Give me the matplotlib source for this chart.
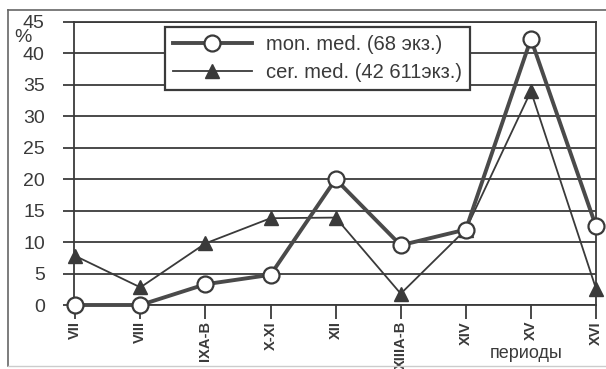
import numpy as np
import matplotlib
matplotlib.use("Agg")
import matplotlib.pyplot as plt
from matplotlib.lines import Line2D

plt.rcParams['font.family'] = ['Liberation Sans', 'DejaVu Sans']

# periods and shares (%) of the two groups
periods = ["VII", "VIII", "IXA-B", "X-XI", "XII", "XIIIA-B", "XIV", "XV", "XVI"]
mon_med = [0, 0, 3.3, 4.8, 20, 9.5, 12, 42.3, 12.5]
cer_med = [7.8, 2.8, 9.8, 13.8, 13.9, 1.8, 12, 34, 2.6]
yticks = [0, 5, 10, 15, 20, 25, 30, 35, 40, 45]

ink = "#3a3a3a"
W, H = 606, 369

fig = plt.figure(figsize=(W / 100, H / 100), dpi=100)
ax = fig.add_axes([74 / W, 1 - 305 / H, (596 - 74) / W, (305 - 22) / H])

x = np.arange(len(periods))

# horizontal grid drawn as lines reaching past the left spine
for v in yticks:
    ax.axhline(v, color=ink, lw=1.3, zorder=1)

ax.plot(x, cer_med, color=ink, lw=1.3, marker="^", ms=10,
        mfc=ink, mec=ink, zorder=3, clip_on=False)
ax.plot(x, mon_med, color="#4a4a4a", lw=2.8, marker="o", ms=11.5,
        mfc="white", mec=ink, mew=1.6, zorder=4, clip_on=False)

ax.set_xlim(-0.02, 8)
ax.set_ylim(0, 45)
ax.set_xticks(x)
ax.set_xticklabels(periods, rotation=90, fontsize=10.5, color=ink,
                   fontweight="semibold")
ax.set_yticks(yticks)
ax.set_yticklabels([str(v) for v in yticks], fontsize=14, color=ink)
ax.tick_params(axis="y", length=8, width=1.3, color=ink, pad=13)
ax.tick_params(axis="x", length=10, width=1.3, color=ink, pad=1.5)
for s in ax.spines.values():
    s.set_color(ink)
    s.set_linewidth(1.3)

# legend
h1 = Line2D([], [], color="#4a4a4a", lw=2.8, marker="o", ms=11.5,
            mfc="white", mec=ink, mew=1.6)
h2 = Line2D([], [], color=ink, lw=1.3, marker="^", ms=10, mfc=ink, mec=ink)
leg = ax.legend([h1, h2], ["mon. med. (68 экз.)", "cer. med. (42 611экз.)"],
                loc="upper left", bbox_to_anchor=((165 - 74) / 522, 1 - 5 / 283),
                borderaxespad=0, fontsize=14.5, handlelength=3.9,
                fancybox=False, framealpha=1, edgecolor=ink,
                labelspacing=0.45, borderpad=0.4, handletextpad=0.7)
leg.get_frame().set_linewidth(1.6)
for t in leg.get_texts():
    t.set_color(ink)

fig.text(14 / W, 1 - 38 / H, "%", fontsize=14, color=ink, ha="left", va="center")
fig.text(526 / W, 1 - 354 / H, "периоды", fontsize=13, color=ink,
         ha="center", va="center")

# outer frame
fig.add_artist(Line2D([8 / W, 8 / W], [1 - 10 / H, 1 - 366 / H],
                      transform=fig.transFigure, color="#666666", lw=1.2))
fig.add_artist(Line2D([8 / W, 1], [1 - 10 / H, 1 - 10 / H],
                      transform=fig.transFigure, color="#666666", lw=1.2))
fig.add_artist(Line2D([8 / W, 1], [1 - 366 / H, 1 - 366 / H],
                      transform=fig.transFigure, color="#cccccc", lw=1.0))

fig.savefig("out.png", dpi=100)
